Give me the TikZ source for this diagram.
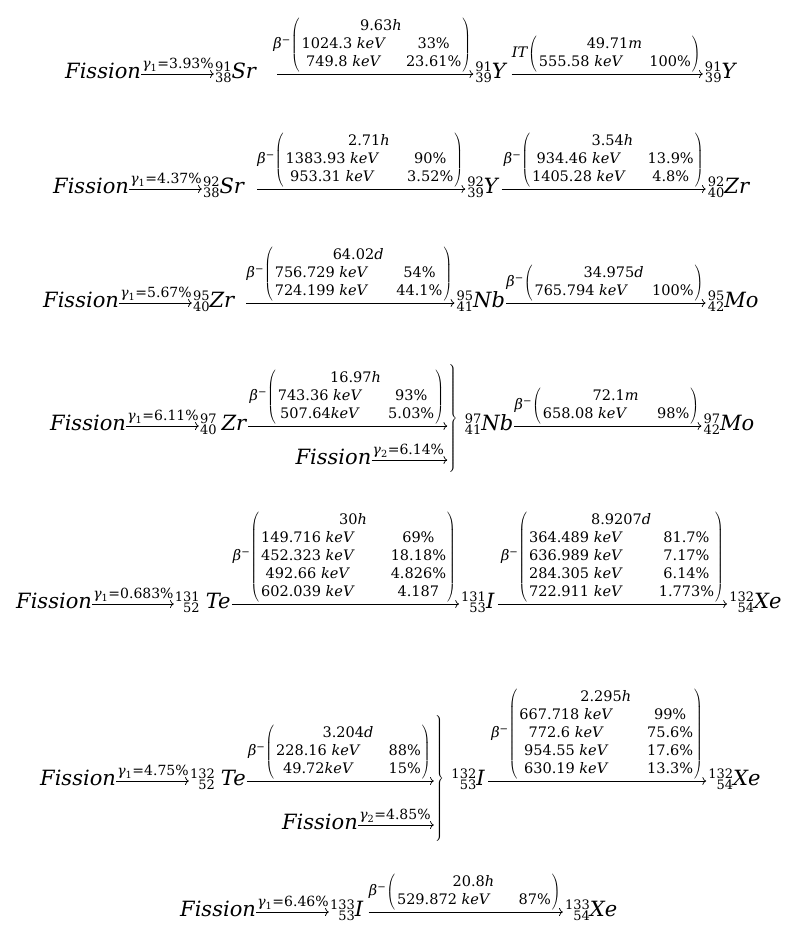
\RequirePackage{fix-cm}
\documentclass[tikz,border=0pt]{standalone}
\usepackage{fontspec}
\setmainfont{DejaVu Serif}
\usetikzlibrary{arrows.meta,calc}
\newcommand\decay[4]{#1$\left(\vcenter{\hbox{\begin{tabular}{@{\hspace{2pt}}c@{\hspace{#2}}c@{\hspace{1pt}}}\multicolumn{2}{@{}c@{}}{#3}\\ #4\end{tabular}}}\right)$}
\newcommand\bm{\textit{β}\textsuperscript{−}}
\newcommand\kev{ \textit{keV}}
\newcommand\nuc[3]{%
  \setbox0=\hbox{\fontsize{13}{13}\selectfont #1}%
  \setbox2=\hbox{\fontsize{13}{13}\selectfont #2}%
  \ifdim\wd0<\wd2 \setbox0=\hbox to\wd2{\hss\unhbox0}\else\setbox2=\hbox to\wd0{\hss\unhbox2}\fi
  \rlap{\raise7pt\box0}\lower4.5pt\box2\textit{#3}}
\newcommand\gam[2]{\textit{γ}\textsubscript{#1}=#2}
\def\ax{4pt}
\begin{document}
\begin{tikzpicture}[x=1pt,y=-1pt,
  big/.style={font=\fontsize{21}{25}\selectfont, inner sep=0pt, anchor=base west},
  glab/.style={font=\fontsize{14}{16}\selectfont, inner sep=0pt, anchor=south west},
  mlab/.style={font=\fontsize{14.5}{18}\selectfont, inner sep=0pt, anchor=south west},
  brc/.style={font=\fontsize{26}{30}\selectfont, inner sep=0pt, anchor=west},
  arr/.style={-{Computer Modern Rightarrow[scale=1.2]}, line width=0.7pt},
]
\useasboundingbox (0,0) rectangle (786,927);

% ---------- Row 1 ----------
\coordinate (b1) at (65,78);
\node[big] (F1) at (b1) {\textit{Fission}};
\node[glab] (G1) at ($(F1.base east)+(1pt,6pt)$) {\gam{1}{3.93\%}};
\node[big] (A1) at ($(G1.east |- b1)+(1pt,0pt)$) {\nuc{91}{38}{Sr}};
\draw[arr] ($(F1.base east)+(0pt,\ax)$) -- ($(A1.base west)+(-1pt,\ax)$);
\node[mlab] (M1) at ($(A1.base east)+(16pt,6pt)$) {\decay{\bm}{20pt}{9.63\textit{h}}{1024.3\kev & 33\%\\ 749.8\kev & 23.61\%}};
\node[big] (B1) at ($(M1.east |- b1)+(4pt,0pt)$) {\nuc{91}{39}{Y}};
\draw[arr] ($(A1.base east)+(20pt,\ax)$) -- ($(B1.base west)+(-2pt,\ax)$);
\node[mlab] (M1b) at ($(B1.base east)+(4pt,6pt)$) {\decay{\textit{IT}}{26pt}{49.71\textit{m}}{555.58\kev & 100\%}};
\node[big] (C1) at ($(M1b.east |- b1)+(4pt,0pt)$) {\nuc{91}{39}{Y}};
\draw[arr] ($(B1.base east)+(4pt,\ax)$) -- ($(C1.base west)+(-2pt,\ax)$);

% ---------- Row 2 ----------
\coordinate (b2) at (53,193);
\node[big] (F2) at (b2) {\textit{Fission}};
\node[glab] (G2) at ($(F2.base east)+(1pt,6pt)$) {\gam{1}{4.37\%}};
\node[big] (A2) at ($(G2.east |- b2)+(1pt,0pt)$) {\nuc{92}{38}{Sr}};
\draw[arr] ($(F2.base east)+(0pt,\ax)$) -- ($(A2.base west)+(-1pt,\ax)$);
\node[mlab] (M2) at ($(A2.base east)+(12pt,6pt)$) {\decay{\bm}{28pt}{2.71\textit{h}}{1383.93\kev & 90\%\\ 953.31\kev & 3.52\%}};
\node[big] (B2) at ($(M2.east |- b2)+(4pt,0pt)$) {\nuc{92}{39}{Y}};
\draw[arr] ($(A2.base east)+(12pt,\ax)$) -- ($(B2.base west)+(-2pt,\ax)$);
\node[mlab] (M2b) at ($(B2.base east)+(4pt,6pt)$) {\decay{\bm}{22pt}{3.54\textit{h}}{934.46\kev & 13.9\%\\ 1405.28\kev & 4.8\%}};
\node[big] (C2) at ($(M2b.east |- b2)+(4pt,0pt)$) {\nuc{92}{40}{Zr}};
\draw[arr] ($(B2.base east)+(2pt,\ax)$) -- ($(C2.base west)+(-2pt,\ax)$);

% ---------- Row 3 ----------
\coordinate (b3) at (43,307);
\node[big] (F3) at (b3) {\textit{Fission}};
\node[glab] (G3) at ($(F3.base east)+(1pt,6pt)$) {\gam{1}{5.67\%}};
\node[big] (A3) at ($(G3.east |- b3)+(1pt,0pt)$) {\nuc{95}{40}{Zr}};
\draw[arr] ($(F3.base east)+(0pt,\ax)$) -- ($(A3.base west)+(-1pt,\ax)$);
\node[mlab] (M3) at ($(A3.base east)+(11pt,6pt)$) {\decay{\bm}{28pt}{64.02\textit{d}}{756.729\kev & 54\%\\ 724.199\kev & 44.1\%}};
\node[big] (B3) at ($(M3.east |- b3)+(4pt,0pt)$) {\nuc{95}{41}{Nb}};
\draw[arr] ($(A3.base east)+(11pt,\ax)$) -- ($(B3.base west)+(-2pt,\ax)$);
\node[mlab] (M3b) at ($(B3.base east)+(1pt,6pt)$) {\decay{\bm}{24pt}{34.975\textit{d}}{765.794\kev & 100\%}};
\node[big] (C3) at ($(M3b.east |- b3)+(4pt,0pt)$) {\nuc{95}{42}{Mo}};
\draw[arr] ($(B3.base east)+(1pt,\ax)$) -- ($(C3.base west)+(-2pt,\ax)$);

% ---------- Row 4 ----------
\coordinate (b4) at (50,430);
\coordinate (b4s) at (50,464);
\node[big] (F4) at (b4) {\textit{Fission}};
\node[glab] (G4) at ($(F4.base east)+(1pt,6pt)$) {\gam{1}{6.11\%}};
\node[big] (A4) at ($(G4.east |- b4)+(1pt,0pt)$) {\nuc{97}{40}{\hspace{5pt}Zr}};
\draw[arr] ($(F4.base east)+(0pt,\ax)$) -- ($(A4.base west)+(-1pt,\ax)$);
\node[mlab] (M4) at ($(A4.base east)+(2pt,6pt)$) {\decay{\bm}{26pt}{16.97\textit{h}}{743.36\kev & 93\%\\ 507.64\textit{keV} & 5.03\%}};
\coordinate (E4) at ($(M4.east |- b4)+(3pt,0pt)$);
\coordinate (c4) at ($(M4.north)!0.5!($(b4s)+(0pt,-5pt)$)$);
\node[brc] (K4) at (E4 |- c4) {$\left.\vrule height 56pt depth 50pt width 0pt\right\}$};
\draw[arr] ($(A4.base east)+(1pt,\ax)$) -- ($(K4.west |- b4)+(0pt,\ax)$);
\node[glab, anchor=south east] (G4b) at ($(E4 |- b4s)+(-3pt,6pt)$) {\gam{2}{6.14\%}};
\node[big, anchor=base east] (F4b) at ($(G4b.west |- b4s)+(-1pt,0pt)$) {\textit{Fission}};
\draw[arr] ($(F4b.base east)+(0pt,\ax)$) -- ($(K4.west |- b4s)+(0pt,\ax)$);
\node[big] (B4) at ($(K4.east |- b4)+(7pt,0pt)$) {\nuc{97}{41}{Nb}};
\node[mlab] (M4b) at ($(B4.base east)+(1pt,6pt)$) {\decay{\bm}{30pt}{72.1\textit{m}}{658.08\kev & 98\%}};
\node[big] (C4) at ($(M4b.east |- b4)+(4pt,0pt)$) {\nuc{97}{42}{Mo}};
\draw[arr] ($(B4.base east)+(1pt,\ax)$) -- ($(C4.base west)+(-2pt,\ax)$);

% ---------- Row 5 ----------
\coordinate (b5) at (16,608);
\node[big] (F5) at (b5) {\textit{Fission}};
\node[glab] (G5) at ($(F5.base east)+(1pt,6pt)$) {\gam{1}{0.683\%}};
\node[big] (A5) at ($(G5.east |- b5)+(1pt,0pt)$) {\nuc{131}{52}{\hspace{6pt}Te}};
\draw[arr] ($(F5.base east)+(0pt,\ax)$) -- ($(A5.base west)+(-1pt,\ax)$);
\node[mlab] (M5) at ($(A5.base east)+(2pt,6pt)$) {\decay{\bm}{36pt}{30\textit{h}}{149.716\kev & 69\%\\ 452.323\kev & 18.18\%\\ 492.66\kev & 4.826\%\\ 602.039\kev & 4.187}};
\node[big] (B5) at ($(M5.east |- b5)+(5pt,0pt)$) {\nuc{131}{53}{I}};
\draw[arr] ($(A5.base east)+(1pt,\ax)$) -- ($(B5.base west)+(-2pt,\ax)$);
\node[mlab] (M5b) at ($(B5.base east)+(6pt,6pt)$) {\decay{\bm}{36pt}{8.9207\textit{d}}{364.489\kev & 81.7\%\\ 636.989\kev & 7.17\%\\ 284.305\kev & 6.14\%\\ 722.911\kev & 1.773\%}};
\node[big] (C5) at ($(M5b.east |- b5)+(5pt,0pt)$) {\nuc{132}{54}{Xe}};
\draw[arr] ($(B5.base east)+(3pt,\ax)$) -- ($(C5.base west)+(-2pt,\ax)$);

% ---------- Row 6 ----------
\coordinate (b6) at (40,785);
\coordinate (b6s) at (40,829);
\node[big] (F6) at (b6) {\textit{Fission}};
\node[glab] (G6) at ($(F6.base east)+(1pt,6pt)$) {\gam{1}{4.75\%}};
\node[big] (A6) at ($(G6.east |- b6)+(1pt,0pt)$) {\nuc{132}{52}{\hspace{6pt}Te}};
\draw[arr] ($(F6.base east)+(0pt,\ax)$) -- ($(A6.base west)+(-1pt,\ax)$);
\node[mlab] (M6) at ($(A6.base east)+(2pt,6pt)$) {\decay{\bm}{28pt}{3.204\textit{d}}{228.16\kev & 88\%\\ 49.72\textit{keV} & 15\%}};
\coordinate (E6) at ($(M6.east |- b6)+(3pt,0pt)$);
\coordinate (c6) at ($(M6.north)!0.5!($(b6s)+(0pt,-5pt)$)$);
\node[brc] (K6) at (E6 |- c6) {$\left.\vrule height 64pt depth 58pt width 0pt\right\}$};
\draw[arr] ($(A6.base east)+(1pt,\ax)$) -- ($(K6.west |- b6)+(0pt,\ax)$);
\node[glab, anchor=south east] (G6b) at ($(E6 |- b6s)+(-3pt,6pt)$) {\gam{2}{4.85\%}};
\node[big, anchor=base east] (F6b) at ($(G6b.west |- b6s)+(-1pt,0pt)$) {\textit{Fission}};
\draw[arr] ($(F6b.base east)+(0pt,\ax)$) -- ($(K6.west |- b6s)+(0pt,\ax)$);
\node[big] (B6) at ($(K6.east |- b6)+(7pt,0pt)$) {\nuc{132}{53}{I}};
\node[mlab] (M6b) at ($(B6.base east)+(6pt,6pt)$) {\decay{\bm}{34pt}{2.295\textit{h}}{667.718\kev & 99\%\\ 772.6\kev & 75.6\%\\ 954.55\kev & 17.6\%\\ 630.19\kev & 13.3\%}};
\node[big] (C6) at ($(M6b.east |- b6)+(5pt,0pt)$) {\nuc{132}{54}{Xe}};
\draw[arr] ($(B6.base east)+(3pt,\ax)$) -- ($(C6.base west)+(-2pt,\ax)$);

% ---------- Row 7 ----------
\coordinate (b7) at (180,916);
\node[big] (F7) at (b7) {\textit{Fission}};
\node[glab] (G7) at ($(F7.base east)+(1pt,6pt)$) {\gam{1}{6.46\%}};
\node[big] (A7) at ($(G7.east |- b7)+(1pt,0pt)$) {\nuc{133}{53}{I}};
\draw[arr] ($(F7.base east)+(0pt,\ax)$) -- ($(A7.base west)+(-1pt,\ax)$);
\node[mlab] (M7) at ($(A7.base east)+(5pt,6pt)$) {\decay{\bm}{28pt}{20.8\textit{h}}{529.872\kev & 87\%}};
\node[big] (B7) at ($(M7.east |- b7)+(4pt,0pt)$) {\nuc{133}{54}{Xe}};
\draw[arr] ($(A7.base east)+(5pt,\ax)$) -- ($(B7.base west)+(-2pt,\ax)$);
\end{tikzpicture}
\end{document}
